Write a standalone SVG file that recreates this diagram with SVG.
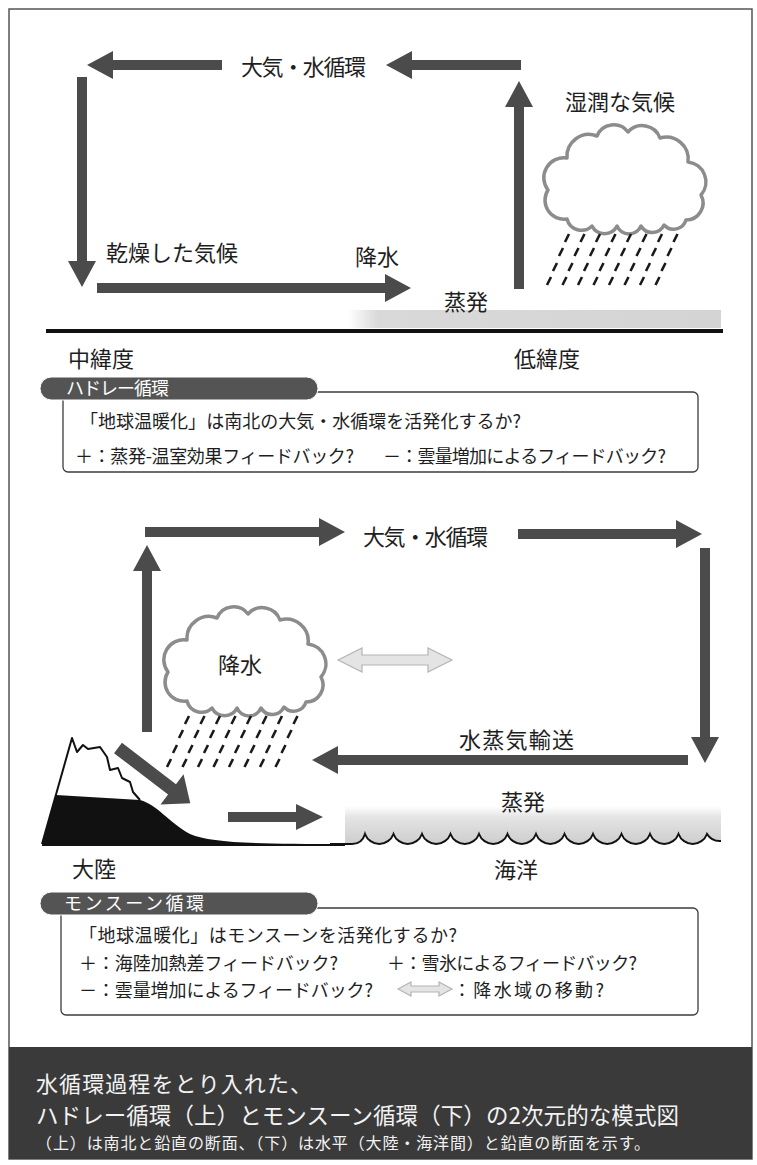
<svg xmlns="http://www.w3.org/2000/svg" xmlns:xlink="http://www.w3.org/1999/xlink" width="757" height="1165" viewBox="0 0 757 1165">
  <style>
    text { font-family: "Noto Sans CJK JP", "Noto Sans", sans-serif; fill: #1e1e1e; dominant-baseline: central; }
    .lbl { font-size: 22px; }
    .box-txt { font-size: 18px; }
    .pill-txt { font-size: 18px; fill: #ffffff; dominant-baseline: alphabetic; }
    .cap { fill: #f2f2f2; }
    .arrow { fill: #4b4b4b; }
    .arrow-light { fill: #e4e4e4; stroke: #b4b4b4; stroke-width: 1.2; }
    .cloud { fill: #ffffff; stroke: #8c8c8c; stroke-width: 3.5; stroke-linejoin: round; }
    .rain { fill: none; stroke: #1a1a1a; stroke-width: 2.6; }
    .box { fill: #ffffff; stroke: #3c3c3c; stroke-width: 1.3; }
    .pill { fill: #545454; stroke: #ffffff; stroke-width: 1; }
  </style>
  <defs>
    <!-- cumulus outline, local origin at its top-left corner -->
    <path id="cloud-shape" d="M21,96 A19,19 0 0 1 2,67 A20,20 0 0 1 21,35 A22,22 0 0 1 51,13 A18,18 0 0 1 82,9 A19,19 0 0 1 114,15 A22,22 0 0 1 142,39 A20,20 0 0 1 155,72 A17,17 0 0 1 140,97 A13,13 0 0 1 118,102 A13,13 0 0 1 95,103 A13,13 0 0 1 71,103 A14,14 0 0 1 46,103 A15,15 0 0 1 21,96 Z"/>
    <!-- slanted rain streaks under the cloud -->
    <path id="rain-shape" d="M19,119l4,-8 M34.5,119l4,-8 M50,119l4,-8 M65.5,119l4,-8 M81,119l4,-8 M96.5,119l4,-8 M112,119l4,-8 M127.5,119l4,-8
      M13,133l4,-8 M28.5,133l4,-8 M44,133l4,-8 M59.5,133l4,-8 M75,133l4,-8 M90.5,133l4,-8 M106,133l4,-8 M121.5,133l4,-8
      M7,148l4,-8 M22.5,148l4,-8 M38,148l4,-8 M53.5,148l4,-8 M69,148l4,-8 M84.5,148l4,-8 M100,148l4,-8 M115.5,148l4,-8
      M1,162l4,-8 M16.5,162l4,-8 M32,162l4,-8 M47.5,162l4,-8 M63,162l4,-8 M78.5,162l4,-8 M94,162l4,-8 M109.5,162l4,-8"/>
    <linearGradient id="band-fade" x1="0" y1="0" x2="1" y2="0">
      <stop offset="0" stop-color="#ffffff"/>
      <stop offset="0.08" stop-color="#d9d9d9"/>
      <stop offset="1" stop-color="#d4d4d4"/>
    </linearGradient>
    <linearGradient id="sea-fade" x1="0" y1="0" x2="0" y2="1">
      <stop offset="0" stop-color="#ffffff"/>
      <stop offset="0.3" stop-color="#e4e4e4"/>
      <stop offset="1" stop-color="#cdcdcd"/>
    </linearGradient>
  </defs>

  <!-- page -->
  <rect x="0" y="0" width="757" height="1165" fill="#ffffff"/>
  <rect x="9" y="9" width="743" height="1150" fill="none" stroke="#555555" stroke-width="1.5"/>

  <!-- ===== Hadley circulation (upper panel) ===== -->
  <g id="hadley-ground">
    <rect x="348" y="310" width="373" height="18" fill="url(#band-fade)"/>
    <rect x="46" y="329" width="677" height="4" fill="#111111"/>
  </g>

  <g id="hadley-cloud">
    <use xlink:href="#cloud-shape" href="#cloud-shape" class="cloud" transform="translate(546,123)"/>
    <use xlink:href="#rain-shape" href="#rain-shape" class="rain" transform="translate(546,123)"/>
  </g>

  <g id="hadley-connectors">
    <polygon class="arrow" points="87,65 113,51 113,60 222,60 222,70 113,70 113,79"/>
    <polygon class="arrow" points="386,65 412,51 412,60 521,60 521,70 412,70 412,79"/>
    <polygon class="arrow" points="519,81 505,107 514,107 514,289 524,289 524,107 533,107"/>
    <polygon class="arrow" points="82,287 68,261 77,261 77,77 87,77 87,261 96,261"/>
    <polygon class="arrow" points="411,288 385,274 385,283 97,283 97,293 385,293 385,302"/>
  </g>

  <g id="hadley-labels">
    <text class="lbl" x="241" y="65" font-size="21" textLength="125">大気・水循環</text>
    <text class="lbl" x="565" y="100">湿潤な気候</text>
    <text class="lbl" x="106" y="251">乾燥した気候</text>
    <text class="lbl" x="355" y="255">降水</text>
    <text class="lbl" x="444" y="300">蒸発</text>
    <text class="lbl" x="68" y="357">中緯度</text>
    <text class="lbl" x="514" y="357">低緯度</text>
  </g>

  <g id="hadley-box">
    <rect class="box" x="63" y="392" width="635" height="80" rx="5"/>
    <rect class="pill" x="40" y="377" width="278" height="23" rx="11.5"/>
    <text class="pill-txt" x="66" y="395" textLength="103">ハドレー循環</text>
    <text class="box-txt" x="80" y="420" textLength="441">「地球温暖化」は南北の大気・水循環を活発化するか?</text>
    <text class="box-txt" x="75" y="455" textLength="279">＋：蒸発-温室効果フィードバック?</text>
    <text class="box-txt" x="383" y="455" textLength="283">－：雲量増加によるフィードバック?</text>
  </g>

  <!-- ===== Monsoon circulation (lower panel) ===== -->
  <g id="monsoon-sea">
    <path d="M352,844 Q362,844 365,834 A15.2,15.2 0 0 0 393.5,834 A15.2,15.2 0 0 0 422,834 A15.2,15.2 0 0 0 450.5,834 A15.2,15.2 0 0 0 479,834 A15.2,15.2 0 0 0 507.5,834 A15.2,15.2 0 0 0 536,834 A15.2,15.2 0 0 0 564.5,834 A15.2,15.2 0 0 0 593,834 A15.2,15.2 0 0 0 621.5,834 A15.2,15.2 0 0 0 650,834 A15.2,15.2 0 0 0 678.5,834 A15.2,15.2 0 0 0 707,834 A15.2,15.2 0 0 0 721,841 L721,806 L345,806 L345,844 Z" fill="url(#sea-fade)"/>
    <path d="M330,844 L352,844 Q362,844 365,834 A15.2,15.2 0 0 0 393.5,834 A15.2,15.2 0 0 0 422,834 A15.2,15.2 0 0 0 450.5,834 A15.2,15.2 0 0 0 479,834 A15.2,15.2 0 0 0 507.5,834 A15.2,15.2 0 0 0 536,834 A15.2,15.2 0 0 0 564.5,834 A15.2,15.2 0 0 0 593,834 A15.2,15.2 0 0 0 621.5,834 A15.2,15.2 0 0 0 650,834 A15.2,15.2 0 0 0 678.5,834 A15.2,15.2 0 0 0 707,834 A15.2,15.2 0 0 0 721,841" fill="none" stroke="#111111" stroke-width="2"/>
  </g>

  <g id="monsoon-land">
    <path d="M42,844 L72,738 L77,752 L83,745 L88,749 L100,747 L107,757 L110,770 L118,768 L122,778 L130,782 L133,792 L140,800" fill="#ffffff" stroke="#111111" stroke-width="2" stroke-linejoin="round"/>
    <path d="M42,845 L56,795 L140,800 C158,805 168,822 190,834 C212,843 252,844 345,844 L345,846 L42,846 Z" fill="#111111"/>
  </g>

  <g id="monsoon-cloud">
    <use xlink:href="#cloud-shape" href="#cloud-shape" class="cloud" transform="translate(166,605)"/>
    <use xlink:href="#rain-shape" href="#rain-shape" class="rain" transform="translate(166,605)"/>
    <text class="lbl" x="218" y="663">降水</text>
  </g>

  <g id="monsoon-connectors">
    <polygon class="arrow" points="345,532 319,518 319,527 145,527 145,537 319,537 319,546"/>
    <polygon class="arrow" points="702,534 676,520 676,529 518,529 518,539 676,539 676,548"/>
    <polygon class="arrow" points="705,763 691,737 700,737 700,548 710,548 710,737 719,737"/>
    <polygon class="arrow" points="147,545 133,571 142,571 142,732 152,732 152,571 161,571"/>
    <polygon class="arrow" points="312,760 338,746 338,755 688,755 688,765 338,765 338,774"/>
    <polygon class="arrow" points="0,-6.5 68,-6.5 68,-19 91,0 68,19 68,6.5 0,6.5" transform="translate(118,748) rotate(37.4)"/>
    <polygon class="arrow" points="323,817 296,804 296,812 228,812 228,822 296,822 296,830"/>
    <polygon class="arrow-light" points="338,660 362,648 362,655 428,655 428,648 452,660 428,672 428,665 362,665 362,672"/>
  </g>

  <g id="monsoon-labels">
    <text class="lbl" x="363" y="535" font-size="21" textLength="125">大気・水循環</text>
    <text class="lbl" x="459" y="738" textLength="115">水蒸気輸送</text>
    <text class="lbl" x="501" y="800" font-size="23">蒸発</text>
    <text class="lbl" x="72" y="867" font-size="23">大陸</text>
    <text class="lbl" x="494" y="868" font-size="23">海洋</text>
  </g>

  <g id="monsoon-box">
    <rect class="box" x="61" y="908" width="637" height="107" rx="5"/>
    <rect class="pill" x="40" y="892" width="278" height="23" rx="11.5"/>
    <text class="pill-txt" x="64" y="910" textLength="140">モンスーン循環</text>
    <text class="box-txt" x="79" y="934" textLength="378">「地球温暖化」はモンスーンを活発化するか?</text>
    <text class="box-txt" x="79" y="962" textLength="259">＋：海陸加熱差フィードバック?</text>
    <text class="box-txt" x="387" y="962" textLength="250">＋：雪氷によるフィードバック?</text>
    <text class="box-txt" x="79" y="989" textLength="294">－：雲量増加によるフィードバック?</text>
    <polygon class="arrow-light" points="398,989 411,982 411,986 439,986 439,982 452,989 439,996 439,992 411,992 411,996"/>
    <text class="box-txt" x="453" y="989" textLength="151">：降水域の移動?</text>
  </g>

  <!-- ===== caption band ===== -->
  <g id="caption">
    <rect x="9" y="1047" width="743" height="112" fill="#3a3a3a"/>
    <text class="cap" x="36" y="1082" font-size="22" textLength="276">水循環過程をとり入れた、</text>
    <text class="cap" x="36" y="1114" font-size="22.5" textLength="643">ハドレー循環（上）とモンスーン循環（下）の2次元的な模式図</text>
    <text class="cap" x="36" y="1142" font-size="16" textLength="614">（上）は南北と鉛直の断面、（下）は水平（大陸・海洋間）と鉛直の断面を示す。</text>
  </g>
</svg>
